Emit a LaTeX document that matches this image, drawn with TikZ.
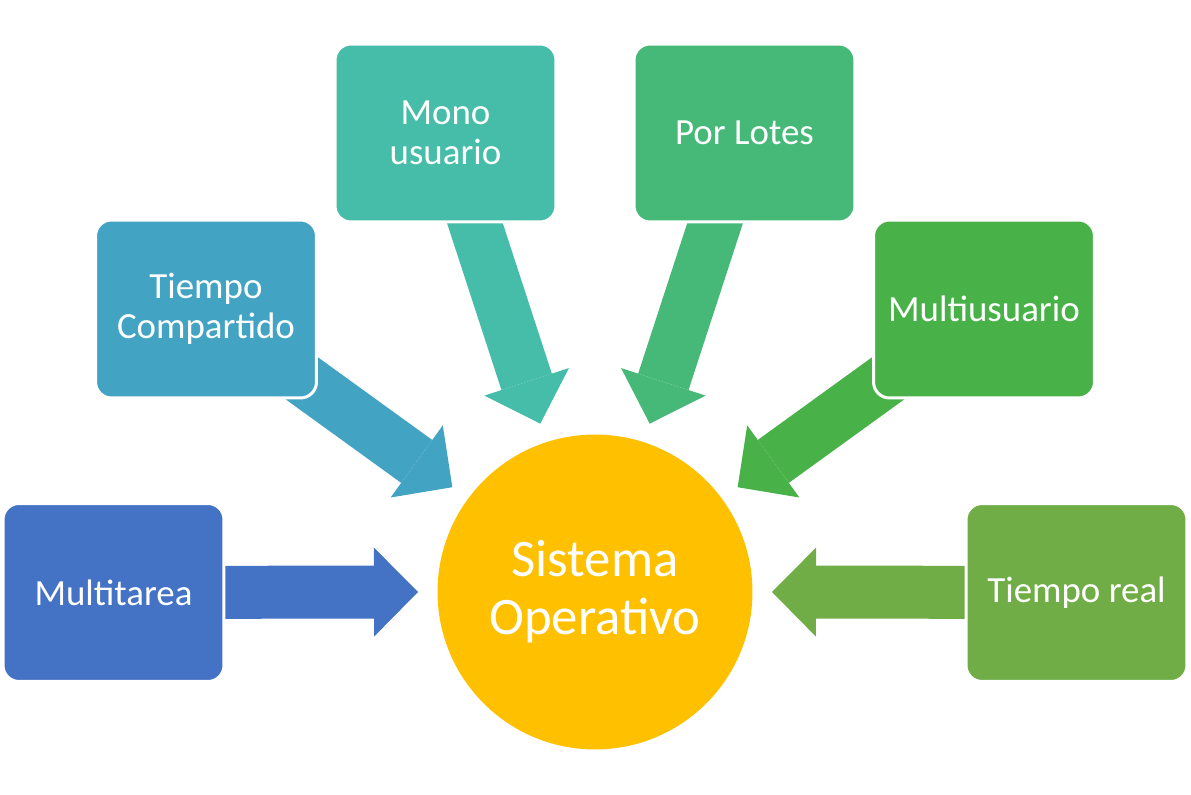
\documentclass[tikz,border=0pt]{standalone}
\usepackage{fontspec}
\setmainfont{Carlito}
\usetikzlibrary{arrows.meta,backgrounds,calc}
\definecolor{cMultitarea}{HTML}{4472C4}
\definecolor{cCompartido}{HTML}{43A3C3}
\definecolor{cMono}{HTML}{46BDA8}
\definecolor{cLotes}{HTML}{46B978}
\definecolor{cMultiusuario}{HTML}{48B248}
\definecolor{cReal}{HTML}{70AD47}
\definecolor{cSistema}{HTML}{FFC000}
\tikzset{
  tipo/.style={draw=white, line width=1.7pt, rounded corners=0.32cm,
    minimum width=4.42cm, minimum height=3.56cm, text=white, align=center,
    font=\fontsize{21}{23}\selectfont},
  flecha/.style={line width=1.06cm,
    -{Triangle[length=0.88cm, width=1.78cm, line width=0pt]}},
}
\begin{document}
\begin{tikzpicture}[x=0.02cm,y=0.02cm]

    \useasboundingbox (0,0) rectangle (1191,795);

    \node[circle, fill=cSistema, minimum size=6.3cm, text=white, align=center,
      font=\fontsize{30}{33}\selectfont] (so) at (595,203) {Sistema\\Operativo};

    \node[tipo, fill=cMultitarea] (mt) at (113.5,202.5) {Multitarea};
    \node[tipo, fill=cCompartido] (tc) at (206,486) {Tiempo\\Compartido};
    \node[tipo, fill=cMono] (mu) at (445.5,662) {Mono\\usuario};
    \node[tipo, fill=cLotes] (pl) at (744.5,662) {Por Lotes};
    \node[tipo, fill=cMultiusuario] (mul) at (984,486) {Multiusuario};
    \node[tipo, fill=cReal] (tr) at (1076.5,202.5) {Tiempo real};

    \begin{scope}[on background layer]
      \draw[flecha, cMultitarea] (mt.center) -- ($(so.center)+(180:177)$);
      \draw[flecha, cCompartido] (tc.center) -- ($(so.center)+(143.7:177)$);
      \draw[flecha, cMono] (mu.center) -- ($(so.center)+(108:177)$);
      \draw[flecha, cLotes] (pl.center) -- ($(so.center)+(72:177)$);
      \draw[flecha, cMultiusuario] (mul.center) -- ($(so.center)+(36.3:177)$);
      \draw[flecha, cReal] (tr.center) -- ($(so.center)+(0:177)$);
    \end{scope}

  \end{tikzpicture}
\end{document}
